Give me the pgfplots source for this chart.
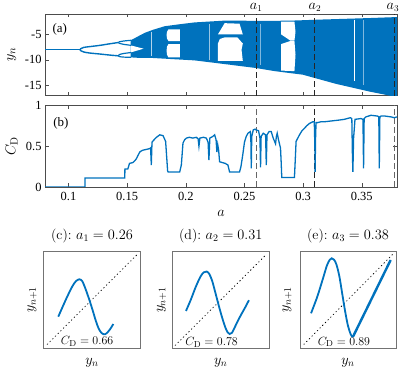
\documentclass[border=0pt]{standalone}
\usepackage{pgfplots}
\pgfplotsset{compat=1.18}
\usepackage{fontspec}
\newfontfamily\tnr{Liberation Serif}
\definecolor{mblue}{RGB}{0,114,189}
\tikzset{alab/.style={font=\fontsize{13.5}{14}\selectfont, anchor=base, inner sep=0pt, yshift=4.5bp}}
\begin{document}
\begin{tikzpicture}
\path[use as bounding box] (0,0) rectangle (399bp,372bp);
\pgfplotsset{
  every axis/.append style={scale only axis, anchor=south west, clip mode=individual,
    axis line style={black!70, line width=0.5pt}, tick style={black!70, line width=0.5pt}, major tick length=3.5bp},
  tnrticks/.style={/pgf/number format/assume math mode=true,
    tick label style={font=\tnr\fontsize{12.5}{13}\selectfont}},
  retmap/.style={xmin=0,xmax=1,ymin=0,ymax=1,xtick=\empty,ytick=\empty,
    axis line style={black!55, line width=0.6pt},
    title style={anchor=center, font=\fontsize{14}{15}\selectfont},
    xlabel={$y_n$}, ylabel={$y_{n+1}$},
    xlabel style={at={(axis description cs:0.5,-0.15)}, anchor=center, font=\fontsize{14}{15}\selectfont},
    ylabel style={anchor=center, font=\fontsize{14}{15}\selectfont}},
  diag/.style={black, line width=0.8pt, dash pattern=on 0.8bp off 3bp, line cap=round},
  rcurve/.style={mblue, line width=1.8bp, smooth},
  dl/.style={black!85, line width=0.8pt, dash pattern=on 6bp off 3bp},
}
% ---------------- (a) ----------------
\begin{axis}[at={(45bp,276.4bp)}, width=352bp, height=81.6bp,
  xmin=0.08, xmax=0.38, ymin=-17, ymax=-1,
  xtick={0.1,0.15,0.2,0.25,0.3,0.35}, xticklabels={},
  ytick={-15,-10,-5}, tnrticks,
  ylabel={$y_n$}, ylabel style={at={(axis description cs:-0.095,0.5)}, anchor=center, font=\fontsize{15}{16}\selectfont}]
% chaotic envelope
\addplot[fill=mblue, draw=none] coordinates {
(0.153,-6.15)(0.156,-5.8)(0.160,-5.3)(0.165,-4.7)(0.172,-4.1)(0.182,-3.4)(0.195,-3.0)(0.2076,-2.65)(0.233,-2.3)(0.2713,-2.35)(0.29,-2.3)(0.314,-2.1)(0.356,-1.8)(0.38,-1.6)(0.381,-1.6)
(0.381,-17.3)(0.38,-17.3)(0.3564,-16.2)(0.328,-14.7)(0.2997,-12.9)(0.2756,-12.2)(0.26,-11.6)(0.2359,-10.9)(0.2076,-10.1)(0.185,-9.8)(0.170,-9.6)(0.160,-9.6)(0.156,-9.55)(0.153,-9.5)
} --cycle;
% gap between the two bands
\addplot[fill=white, draw=none] coordinates {(0.1529,-7.15)(0.1529,-8.55)(0.164,-7.8)} --cycle;
% periodic windows
\addplot[fill=white, draw=none] coordinates {(0.1852,-4.0)(0.1950,-4.0)(0.1950,-6.3)(0.1852,-6.3)(0.1840,-5.8)(0.1836,-5.1)(0.1840,-4.5)} --cycle;
\addplot[fill=white, draw=none] coordinates {(0.1852,-6.9)(0.1950,-6.9)(0.1950,-9.5)(0.1852,-9.5)(0.1840,-9.0)(0.1836,-8.2)(0.1840,-7.4)} --cycle;
\addplot[fill=white, draw=none] coordinates {(0.2331,-2.8)(0.2458,-2.9)(0.2486,-5.0)(0.2274,-5.0)} --cycle;
\addplot[fill=white, draw=none] coordinates {(0.2274,-6.8)(0.2290,-5.9)(0.2331,-5.6)(0.2440,-5.6)(0.2486,-6.8)(0.2475,-8.0)(0.2486,-10.2)(0.2274,-10.2)} --cycle;
\addplot[fill=white, draw=none] coordinates {(0.2813,-2.5)(0.2926,-2.5)(0.2935,-4.5)(0.2926,-6.2)(0.289,-6.2)(0.2813,-5.0)} --cycle;
\addplot[fill=white, draw=none] coordinates {(0.2813,-6.9)(0.289,-6.3)(0.2926,-6.3)(0.2935,-9.0)(0.2926,-12.2)(0.2813,-12.1)} --cycle;
% thin windows
\addplot[white, line width=0.8pt] coordinates {(0.3436,-2.1)(0.3436,-14.2)};
\addplot[white, line width=0.5pt, opacity=0.7] coordinates {(0.1707,-4.6)(0.1707,-9.2)};
\addplot[white, line width=0.5pt, opacity=0.6] coordinates {(0.2197,-3.0)(0.2197,-10.0)};
\addplot[white, line width=0.5pt, opacity=0.5] coordinates {(0.2637,-3.0)(0.2637,-11.0)};
\addplot[white, line width=0.5pt, opacity=0.5] coordinates {(0.3515,-2.2)(0.3515,-15.0)};
% period doubling cascade
\addplot[mblue, line width=1.4pt] coordinates {(0.08,-8)(0.1098,-8)};
\addplot[mblue, line width=1.4pt, smooth] coordinates {(0.1098,-8)(0.1105,-7.8)(0.113,-7.55)(0.118,-7.4)(0.1268,-7.15)(0.135,-6.85)(0.1423,-6.6)};
\addplot[mblue, line width=1.4pt, smooth] coordinates {(0.1098,-8)(0.1105,-8.2)(0.113,-8.45)(0.118,-8.65)(0.1268,-8.85)(0.135,-9.05)(0.1423,-9.2)};
\addplot[mblue, line width=1.2pt, smooth] coordinates {(0.1423,-6.6)(0.1435,-6.45)(0.147,-6.3)(0.1535,-6.15)};
\addplot[mblue, line width=1.2pt, smooth] coordinates {(0.1423,-6.6)(0.1435,-6.75)(0.147,-6.95)(0.1535,-7.15)};
\addplot[mblue, line width=1.2pt, smooth] coordinates {(0.1423,-9.2)(0.1435,-8.95)(0.147,-8.75)(0.1535,-8.55)};
\addplot[mblue, line width=1.2pt, smooth] coordinates {(0.1423,-9.2)(0.1435,-9.35)(0.147,-9.45)(0.1535,-9.5)};
% dashed markers
\addplot[dl] coordinates {(0.26,-17)(0.26,-1)};
\addplot[dl] coordinates {(0.31,-17)(0.31,-1)};
\addplot[dl] coordinates {(0.3775,-17)(0.3775,-1)};
\node[font=\tnr\fontsize{13}{14}\selectfont] at (rel axis cs:0.042,0.816) {(a)};
\node[alab] at (axis cs:0.26,-1) {$a_1$};
\node[alab] at (axis cs:0.31,-1) {$a_2$};
\node[alab] at (axis cs:0.3765,-1) {$a_3$};
\end{axis}
% ---------------- (b) ----------------
\begin{axis}[at={(45bp,185bp)}, width=352bp, height=81.5bp,
  xmin=0.08, xmax=0.38, ymin=0, ymax=1,
  xtick={0.1,0.15,0.2,0.25,0.3,0.35}, xticklabels={0.1,0.15,0.2,0.25,0.3,0.35},
  ytick={0,0.5,1}, yticklabels={0,0.5,1}, tnrticks,
  xticklabel style={yshift=-1.5bp},
  xlabel={$a$}, xlabel style={at={(axis description cs:0.5,-0.32)}, anchor=center, font=\fontsize{15}{16}\selectfont},
  ylabel={$C_\mathrm{D}$}, ylabel style={at={(axis description cs:-0.095,0.5)}, anchor=center, font=\fontsize{15}{16}\selectfont}]
\addplot[dl, black!60] coordinates {(0.26,0)(0.26,1)};
\addplot[dl] coordinates {(0.31,0)(0.31,1)};
\addplot[dl, black!60] coordinates {(0.3775,0)(0.3775,1)};
\addplot[mblue, line width=1.3pt] coordinates {
(0.08,0)(0.1140,0)(0.1141,0.11)(0.1480,0.11)(0.1481,0.22)(0.1505,0.22)(0.151,0.24)(0.152,0.29)(0.155,0.30)(0.157,0.33)(0.158,0.35)(0.159,0.38)(0.1608,0.43)(0.163,0.45)(0.166,0.46)(0.169,0.47)(0.1700,0.48)(0.1706,0.27)(0.1712,0.55)(0.173,0.58)(0.175,0.61)(0.1778,0.64)(0.1806,0.63)(0.1828,0.56)(0.1845,0.20)(0.1849,0.185)(0.1948,0.185)(0.1962,0.27)(0.1976,0.54)(0.1990,0.58)(0.2005,0.60)(0.203,0.61)(0.206,0.60)(0.209,0.61)(0.2105,0.59)(0.2112,0.50)(0.212,0.60)(0.215,0.61)(0.2175,0.60)(0.2190,0.55)(0.2197,0.33)(0.2205,0.60)(0.223,0.62)(0.2246,0.64)(0.2258,0.58)(0.2265,0.43)(0.2272,0.52)(0.228,0.45)(0.2288,0.31)(0.231,0.30)(0.2335,0.29)(0.2359,0.27)(0.2373,0.185)(0.2401,0.185)(0.2458,0.185)(0.2470,0.25)(0.2486,0.40)(0.2500,0.55)(0.2515,0.62)(0.2530,0.66)(0.2550,0.68)(0.2555,0.55)(0.2558,0.23)(0.2562,0.62)(0.2575,0.70)(0.2590,0.71)(0.2600,0.70)(0.2620,0.69)(0.2632,0.60)(0.2637,0.24)(0.2642,0.62)(0.2660,0.66)(0.2680,0.64)(0.2686,0.27)(0.2692,0.64)(0.2710,0.68)(0.2728,0.68)(0.2745,0.60)(0.2765,0.53)(0.2772,0.62)(0.2779,0.66)(0.2790,0.58)(0.2800,0.52)(0.2807,0.48)(0.2813,0.30)(0.2818,0.116)(0.2926,0.116)(0.2935,0.40)(0.2940,0.56)(0.2969,0.64)(0.2990,0.69)(0.3011,0.72)(0.3030,0.75)(0.3054,0.78)(0.3082,0.80)(0.3095,0.80)(0.3100,0.50)(0.3102,0.185)(0.3106,0.60)(0.3110,0.79)(0.3124,0.79)(0.315,0.80)(0.318,0.80)(0.3238,0.81)(0.330,0.82)(0.3351,0.83)(0.3402,0.85)(0.3415,0.84)(0.3420,0.40)(0.3424,0.185)(0.3430,0.60)(0.3442,0.83)(0.3493,0.84)(0.3510,0.83)(0.3515,0.23)(0.3520,0.84)(0.3535,0.86)(0.3578,0.88)(0.3635,0.87)(0.3645,0.86)(0.3649,0.23)(0.3654,0.86)(0.3663,0.87)(0.370,0.87)(0.375,0.86)(0.3776,0.85)(0.38,0.86)};
\node[font=\tnr\fontsize{13}{14}\selectfont] at (rel axis cs:0.045,0.78) {(b)};
\end{axis}
% ---------------- (c) ----------------
\begin{axis}[at={(43.3bp,23.7bp)}, width=97.4bp, height=97.3bp, retmap,
  title={(c):\ $a_1 = 0.26$}, title style={at={(axis description cs:0.5,1.096)}},
  ylabel style={at={(axis description cs:-0.115,0.5)}}]
\addplot[diag] coordinates {(0.04,0.04)(0.97,0.97)};
\addplot[rcurve] coordinates {(0.154,0.325)(0.20,0.43)(0.25,0.54)(0.30,0.64)(0.335,0.69)(0.37,0.709)(0.40,0.69)(0.43,0.62)(0.455,0.55)(0.479,0.479)(0.51,0.38)(0.54,0.28)(0.57,0.20)(0.60,0.155)(0.634,0.144)(0.665,0.17)(0.695,0.21)(0.719,0.25)};
\node[font=\fontsize{12.5}{13}\selectfont] at (axis cs:0.45,0.07) {$C_\mathrm{D} = 0.66$};
\end{axis}
% ---------------- (d) ----------------
\begin{axis}[at={(172.3bp,23.7bp)}, width=97bp, height=96.8bp, retmap,
  title={(d):\ $a_2 = 0.31$}, title style={at={(axis description cs:0.5,1.096)}},
  ylabel style={at={(axis description cs:-0.11,0.5)}}]
\addplot[diag] coordinates {(0.03,0.03)(0.97,0.97)};
\addplot[rcurve] coordinates {(0.141,0.386)(0.19,0.50)(0.24,0.63)(0.29,0.74)(0.325,0.785)(0.354,0.793)(0.38,0.77)(0.41,0.70)(0.44,0.59)(0.474,0.46)(0.51,0.33)(0.545,0.22)(0.57,0.165)(0.591,0.148)(0.615,0.16)(0.65,0.23)(0.70,0.33)(0.75,0.42)(0.790,0.497)};
\node[font=\fontsize{12.5}{13}\selectfont] at (axis cs:0.405,0.06) {$C_\mathrm{D} = 0.78$};
\end{axis}
% ---------------- (e) ----------------
\begin{axis}[at={(300bp,23.7bp)}, width=96bp, height=97.3bp, retmap,
  title={(e):\ $a_3 = 0.38$}, title style={at={(axis description cs:0.5,1.096)}},
  ylabel style={at={(axis description cs:-0.135,0.5)}}]
\addplot[diag] coordinates {(0.04,0.04)(0.97,0.97)};
\addplot[rcurve] coordinates {(0.115,0.36)(0.18,0.53)(0.24,0.72)(0.28,0.85)(0.31,0.91)(0.33,0.925)(0.355,0.91)(0.38,0.86)(0.41,0.74)(0.44,0.56)(0.47,0.38)(0.50,0.23)(0.53,0.14)(0.549,0.12)(0.565,0.14)};
\addplot[mblue, line width=2.4bp] coordinates {(0.555,0.125)(0.944,0.907)};
\node[font=\fontsize{12.5}{13}\selectfont] at (axis cs:0.458,0.065) {$C_\mathrm{D} = 0.89$};
\end{axis}
\end{tikzpicture}
\end{document}
